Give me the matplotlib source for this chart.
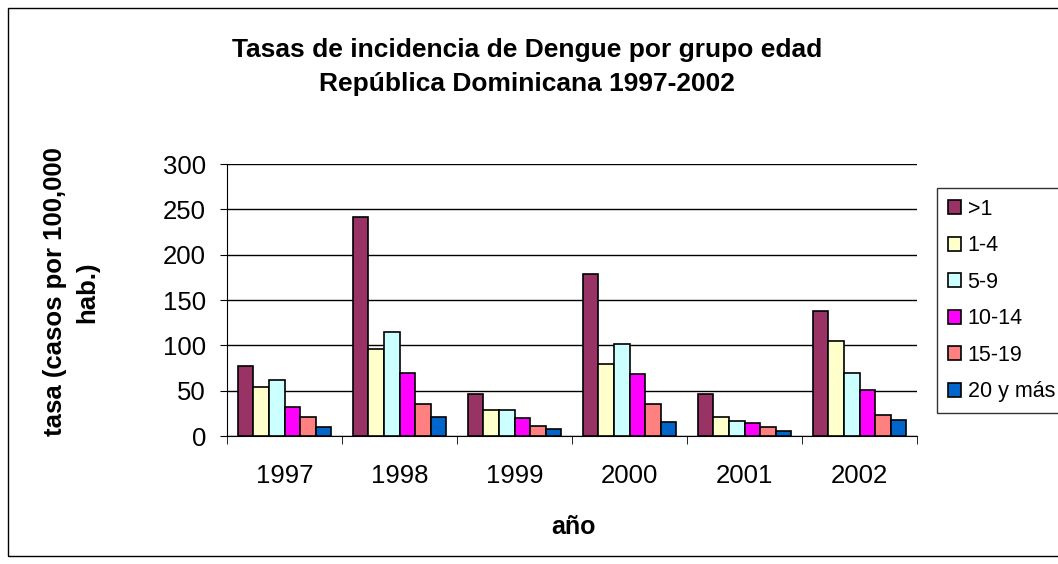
import numpy as np
import matplotlib.pyplot as plt
from matplotlib.patches import Rectangle

plt.rcParams['font.family'] = ['Liberation Sans', 'DejaVu Sans']

years = ['1997', '1998', '1999', '2000', '2001', '2002']
groups = ['>1', '1-4', '5-9', '10-14', '15-19', '20 y más']
menor_1 = [77.5, 242, 46.5, 178.5, 46.5, 137.5]
g1_4 = [54, 96.5, 29, 79.5, 21.5, 104.5]
g5_9 = [62, 114.5, 29, 101, 17, 70]
g10_14 = [31.5, 70, 19.5, 68, 14, 50.5]
g15_19 = [21.5, 35, 11.5, 35, 9.5, 23.5]
g20_mas = [10, 21.5, 8, 15.5, 6, 18]
colors = ['#993366', '#FFFFCC', '#CCFFFF', '#FF00FF', '#FF8080', '#0066CC']

series = [menor_1, g1_4, g5_9, g10_14, g15_19, g20_mas]

W, H = 1058, 564
fig = plt.figure(figsize=(W / 100, H / 100), dpi=100)
ax = fig.add_axes([227 / W, 1 - 436 / H, 690 / W, 272 / H])

x = np.arange(len(years))
w = 0.135
for i, (vals, name, c) in enumerate(zip(series, groups, colors)):
    ax.bar(x + (i - 2.5) * w, vals, w, color=c, edgecolor='black',
           linewidth=1.2, label=name, zorder=3)

ax.set_xlim(-0.5, len(years) - 0.5)
ax.set_ylim(0, 300)
ax.set_yticks(range(0, 301, 50))
ax.yaxis.grid(True, color='black', linewidth=1, zorder=0)
ax.set_xticks(x)
ax.set_xticklabels(years)
ax.tick_params(axis='x', length=0, labelsize=18.5, pad=20)
ax.set_xticks(np.arange(-0.5, len(years), 1), minor=True)
ax.tick_params(axis='x', which='minor', length=6, direction='out')
ax.tick_params(axis='y', labelsize=18.5, length=5, direction='out', pad=10)
for s in ['top', 'right']:
    ax.spines[s].set_visible(False)

fig.text(573 / W, 1 - 527 / H, 'año', ha='center', va='center',
         fontsize=18, fontweight='bold')
fig.text(71 / W, 1 - 292 / H, 'tasa (casos por 100,000\nhab.)',
         rotation=90, ha='center', va='center', multialignment='center',
         fontsize=18.5, fontweight='bold', linespacing=1.45)

fig.text(527 / W, 1 - 67 / H,
         'Tasas de incidencia de Dengue por grupo edad\nRepública Dominicana 1997-2002',
         ha='center', va='center', fontsize=19, fontweight='bold',
         linespacing=1.55)

leg = ax.legend(loc='upper left', bbox_to_anchor=(937 / W, 1 - 188 / H),
                bbox_transform=fig.transFigure, fontsize=15.5, frameon=True,
                fancybox=False, edgecolor='black', handlelength=0.6,
                handleheight=0.6, handletextpad=0.32, labelspacing=0.72,
                borderpad=0.5, borderaxespad=0)
leg.get_frame().set_linewidth(1)

fig.patches.append(Rectangle((8 / W, 8 / H), 1.2, 548 / H,
                             transform=fig.transFigure, fill=False,
                             edgecolor='black', linewidth=1))

fig.savefig('out.png', dpi=100)
